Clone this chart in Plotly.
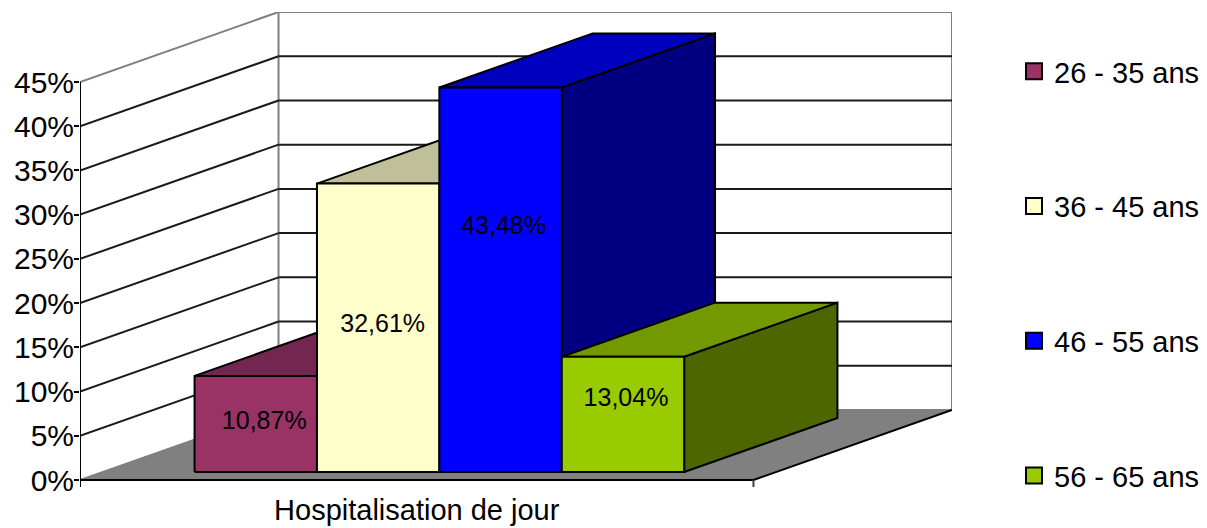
import plotly.graph_objects as go

CATEGORY = ["Hospitalisation de jour"]
SERIES = ["26 - 35 ans", "36 - 45 ans", "46 - 55 ans", "56 - 65 ans"]
VALUES = [10.87, 32.61, 43.48, 13.04]
VALUE_LABELS = ["10,87%", "32,61%", "43,48%", "13,04%"]
LABEL_Y = [6.45, 17.4, 28.5, 9.05]
LABEL_DX = [0.0126, 0.0067, 0.0045, 0.0045]
FRONT = ["#993366", "#FFFFCC", "#0000FF", "#99CC00"]
TOP = ["#732650", "#BFBF99", "#0000BF", "#739900"]
SIDE = ["#4D1A33", "#808066", "#000080", "#4D6600"]
TICKS = [0, 5, 10, 15, 20, 25, 30, 35, 40, 45]

# oblique projection: depth d in [0,1] shifts a point along the axes
DX, DY = 0.2948, 7.915
D0, D1 = 0.114, 0.886
GROUP = 0.727
W = GROUP / len(SERIES)
BASE = 0.0
GRID = "#1a1a1a"
WALL = "#808080"


def proj(x, y, d):
    return x + d * DX, y + d * DY


def poly(points, fill, line="black", width=2):
    xs = [p[0] for p in points] + [points[0][0]]
    ys = [p[1] for p in points] + [points[0][1]]
    return go.Scatter(x=xs, y=ys, mode="lines", fill="toself", fillcolor=fill,
                      line=dict(color=line, width=width), showlegend=False,
                      hoverinfo="skip", cliponaxis=False)


def segs(pairs, color, width=2):
    xs, ys = [], []
    for a, b in pairs:
        xs += [a[0], b[0], None]
        ys += [a[1], b[1], None]
    return go.Scatter(x=xs, y=ys, mode="lines", line=dict(color=color, width=width),
                      showlegend=False, hoverinfo="skip", cliponaxis=False)


fig = go.Figure()
L, R = -0.5, 0.5

# floor
fig.add_trace(poly([proj(L, 0, 0), proj(R, 0, 0), proj(R, 0, 1), proj(L, 0, 1)], "#808080", line="#808080", width=1))
# walls
fig.add_trace(segs([(proj(L, 0, 0), proj(L, 0, 1)), (proj(L, 45, 0), proj(L, 45, 1)),
                    (proj(L, 0, 1), proj(L, 45, 1)), (proj(L, 45, 1), proj(R, 45, 1)),
                    (proj(R, 45, 1), proj(R, 0, 1)), (proj(L, 0, 1), proj(R, 0, 1))], WALL))
# gridlines
grid = []
for t in TICKS[1:-1]:
    grid += [(proj(L, t, 0), proj(L, t, 1)), (proj(L, t, 1), proj(R, t, 1))]
fig.add_trace(segs(grid, GRID))
# axis lines
fig.add_trace(segs([(proj(L, -0.8, 0), proj(L, 45, 0)), (proj(L, 0, 0), proj(R, 0, 0)),
                    (proj(R, 0, 0), proj(R, 0, 1))], "black"))
fig.add_trace(segs([(proj(R, 0, 0), proj(R, -0.8, 0))], "#404040"))

# boxes, back to front in series order
for i, v in enumerate(VALUES):
    x0 = -GROUP / 2 + i * W
    x1 = x0 + W
    fig.add_trace(poly([proj(x1, BASE, D0), proj(x1, BASE, D1), proj(x1, v, D1), proj(x1, v, D0)], SIDE[i]))
    fig.add_trace(poly([proj(x0, v, D0), proj(x1, v, D0), proj(x1, v, D1), proj(x0, v, D1)], TOP[i]))
    fig.add_trace(poly([proj(x0, BASE, D0), proj(x1, BASE, D0), proj(x1, v, D0), proj(x0, v, D0)], FRONT[i]))

# value labels
fig.add_trace(go.Scatter(
    x=[proj(-GROUP / 2 + (i + 0.5) * W, 0, D0)[0] + LABEL_DX[i] for i in range(len(VALUES))],
    y=LABEL_Y, mode="text", text=VALUE_LABELS, textposition="middle center",
    textfont=dict(family="Liberation Sans", size=25, color="black"),
    showlegend=False, hoverinfo="skip", cliponaxis=False))

# legend entries
for i, name in enumerate(SERIES):
    fig.add_trace(go.Scatter(x=[None], y=[None], mode="markers", name=name, legendgroup=name,
                             marker=dict(symbol="square", size=16, color=FRONT[i],
                                         line=dict(color="black", width=2))))

fig.update_layout(
    width=1207, height=528, autosize=False,
    margin=dict(l=80, r=0, t=12, b=40, pad=0),
    paper_bgcolor="white", plot_bgcolor="white",
    font=dict(family="Liberation Sans", size=29, color="black"),
    xaxis=dict(domain=[0, 872 / 1127], range=[L, R + DX], tickmode="array", tickvals=[0], ticktext=CATEGORY,
               showgrid=False, zeroline=False, showline=False, ticks="", automargin=False,
               ticklabelstandoff=2),
    yaxis=dict(range=[-0.905, 45 + DY], tickmode="array", tickvals=TICKS,
               ticktext=[f"{t}%" for t in TICKS], showgrid=False, zeroline=False,
               showline=False, ticks="outside", ticklen=5, tickwidth=2, tickcolor="black",
               automargin=False, tickfont=dict(size=30), ticklabelstandoff=-6),
    legend=dict(x=(1014 - 80) / 1127, xanchor="left", y=0.4506, yanchor="middle",
                tracegroupgap=94, bgcolor="rgba(0,0,0,0)", font=dict(size=29)),
)
fig.write_html("out.html", config=dict(displayModeBar=False),
               post_script="document.body.style.margin='0';")
